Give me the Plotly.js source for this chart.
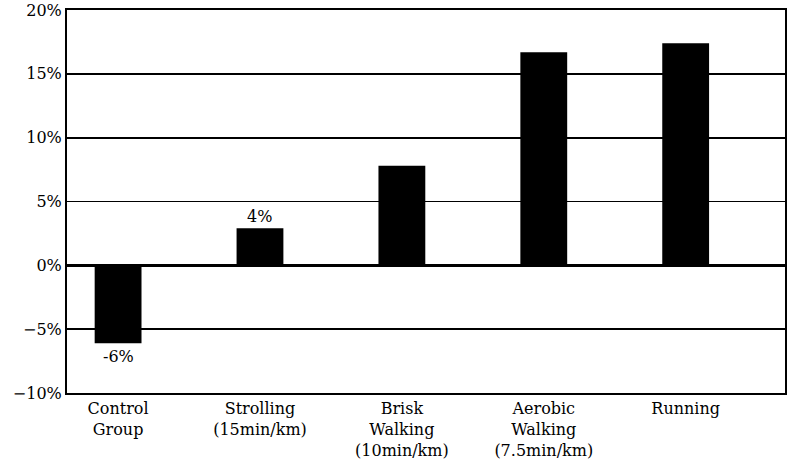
<!DOCTYPE html>
<html>
<head>
<meta charset="utf-8">
<script src="https://cdn.plot.ly/plotly-3.0.1.min.js"></script>
<style>html,body{margin:0;padding:0;background:#fff;}#chart{width:800px;height:472px;}</style>
</head>
<body>
<div id="chart"></div>
<script>
const categories = ["Control<br>Group", "Strolling<br>(15min/km)", "Brisk<br>Walking<br>(10min/km)", "Aerobic<br>Walking<br>(7.5min/km)", "Running"];
const values = [-6.1, 2.9, 7.8, 16.7, 17.4];
const labelIndex = [0, 1];
const labelTexts = ["-6%", "4%"];
const yTicks = [-10, -5, 0, 5, 10, 15, 20];
const yTickText = ["\u221210%", "\u22125%", "0%", "5%", "10%", "15%", "20%"];

const font = {family: "DejaVu Serif", size: 16, color: "#000"};

const annotations = labelIndex.map((i, k) => ({
  x: categories[i], y: values[i], text: labelTexts[k], showarrow: false,
  yanchor: values[i] < 0 ? "top" : "bottom", yshift: values[i] < 0 ? -2 : 0,
  font: font
}));

Plotly.newPlot("chart", [{
  type: "bar", x: categories, y: values, width: 0.33,
  marker: {color: "#000", line: {width: 0}}, hoverinfo: "skip"
}], {
  width: 800, height: 472,
  margin: {l: 67, r: 15, t: 10, b: 79},
  paper_bgcolor: "#fff", plot_bgcolor: "#fff",
  showlegend: false,
  font: font,
  xaxis: {type: "category", range: [-0.36, 4.7], showgrid: false, zeroline: false,
          showline: true, mirror: true, linecolor: "#000", linewidth: 2,
          ticks: "", tickfont: font, fixedrange: true},
  yaxis: {range: [-10, 20], tickvals: yTicks, ticktext: yTickText,
          showgrid: true, gridcolor: "#000", gridwidth: 1.8,
          zeroline: true, zerolinecolor: "#000", zerolinewidth: 3,
          showline: true, mirror: true, linecolor: "#000", linewidth: 2,
          ticks: "", ticklen: 0, tickfont: font, fixedrange: true},
  annotations: annotations
}, {displayModeBar: false, staticPlot: true});
</script>
</body>
</html>
